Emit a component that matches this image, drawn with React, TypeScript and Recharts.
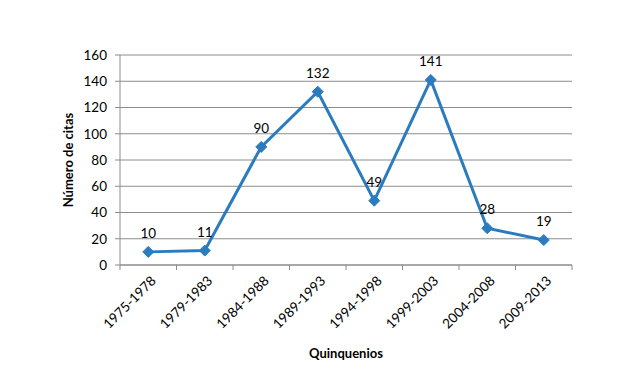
import React from 'react';
import { LineChart, Line, XAxis, YAxis, CartesianGrid, LabelList } from 'recharts';

const categories = ['1975-1978', '1979-1983', '1984-1988', '1989-1993', '1994-1998', '1999-2003', '2004-2008', '2009-2013'];
const citas = [10, 11, 90, 132, 49, 141, 28, 19];
const yTicks = [0, 20, 40, 60, 80, 100, 120, 140, 160];
const xBoundaries = categories.map((_, i) => i).concat([categories.length]);

const data = categories.map((c, i) => ({ name: c, pos: i + 0.5, value: citas[i] }));

const FONT = 'Lato, "Open Sans", "Liberation Sans", sans-serif';
const BLUE = '#2b7cbf';
const GRID = '#8c8c8c';

const Diamond = (props: any) => {
  const { cx, cy } = props;
  if (cx == null || cy == null) return null;
  const r = 5.5;
  return <path d={`M${cx},${cy - r}L${cx + r},${cy}L${cx},${cy + r}L${cx - r},${cy}Z`} fill={BLUE} stroke={BLUE} strokeWidth={1} />;
};

const XTick = (props: any) => {
  const { x, y, payload, width } = props;
  const idx = payload.value;
  if (idx >= categories.length) return null;
  const half = width / (categories.length * 2);
  return (
    <g transform={`translate(${x + half + 3},${y + 4})`}>
      <text x={0} y={0} dy={8} textAnchor="end" transform="rotate(-45)" fontSize={13.5} fill="#000" fontFamily={FONT}>
        {categories[idx]}
      </text>
    </g>
  );
};

export default function App() {
  return (
    <div style={{ position: 'absolute', left: 0, top: 0, width: 644, height: 388, background: '#fff' }}>
      <LineChart width={644} height={388} data={data} margin={{ top: 55, right: 72, left: 0, bottom: 0 }}>
        <CartesianGrid vertical={false} stroke={GRID} strokeWidth={1} />
        <XAxis
          dataKey="pos"
          type="number"
          domain={[0, categories.length]}
          ticks={xBoundaries}
          interval={0}
          height={123}
          tick={<XTick />}
          tickSize={5}
          axisLine={{ stroke: GRID }}
          tickLine={{ stroke: GRID }}
          label={{ value: 'Quinquenios', position: 'insideBottom', offset: 30, fontSize: 13, fontWeight: 'bold', fill: '#000', fontFamily: FONT }}
        />
        <YAxis
          width={120}
          domain={[0, 160]}
          ticks={yTicks}
          interval={0}
          tickSize={5}
          tickMargin={8}
          axisLine={{ stroke: GRID }}
          tickLine={{ stroke: GRID }}
          tick={{ fontSize: 13.5, fill: '#000', fontFamily: FONT }}
          label={{ value: 'Número de citas', angle: -90, position: 'center', dx: 8, fontSize: 13, fontWeight: 'bold', fill: '#000', fontFamily: FONT } as any}
        />
        <Line
          type="linear"
          dataKey="value"
          stroke={BLUE}
          strokeWidth={3}
          dot={<Diamond />}
          activeDot={false}
          isAnimationActive={false}
        >
          <LabelList dataKey="value" position="top" offset={14} fontSize={13.5} fill="#000" fontFamily={FONT} />
        </Line>
      </LineChart>
    </div>
  );
}
